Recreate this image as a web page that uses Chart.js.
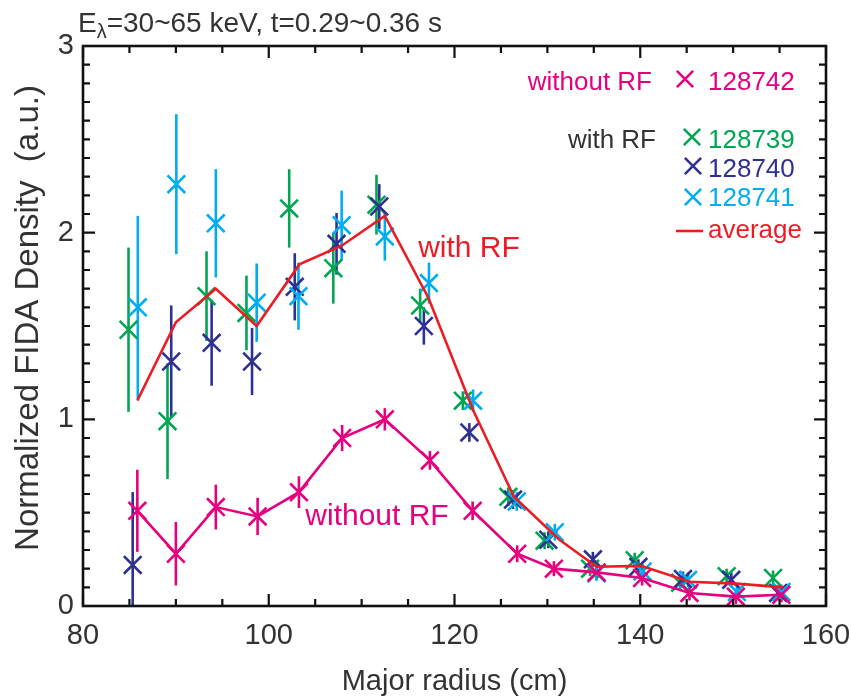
<!DOCTYPE html>
<html>
<head>
<meta charset="utf-8">
<script src="https://cdn.jsdelivr.net/npm/chart.js@4.4.0/dist/chart.umd.min.js"></script>
<style>
  body { margin: 0; background: #fff; }
  #wrap { width: 851px; height: 699px; position: relative; }
</style>
</head>
<body>
<div id="wrap"><canvas id="myChart"></canvas></div>
<script>
// values (major radius in cm, density in a.u.)
const xNoRF  = [85.85, 90.0, 94.3, 98.8, 103.25, 107.9, 112.5, 117.35, 121.95, 126.75, 130.7, 135.3, 140.2, 145.3, 150.3, 155.2];
const yNoRF  = [0.51, 0.28, 0.53, 0.48, 0.61, 0.90, 1.00, 0.78, 0.51, 0.28, 0.20, 0.18, 0.15, 0.07, 0.05, 0.06];
const eNoRF  = [0.22, 0.17, 0.12, 0.10, 0.085, 0.07, 0.06, 0.05, 0.05, 0.045, 0.04, 0.04, 0.04, 0.04, 0.04, 0.04];

const x739 = [84.9, 89.1, 93.3, 97.6, 102.2, 106.95, 111.6, 116.3, 120.9, 125.8, 129.7, 134.6, 139.4, 144.3, 149.3, 154.3];
const y739 = [1.48, 0.99, 1.66, 1.57, 2.13, 1.81, 2.15, 1.61, 1.10, 0.585, 0.35, 0.20, 0.245, 0.125, 0.16, 0.15];
const e739 = [0.44, 0.31, 0.24, 0.20, 0.21, 0.19, 0.16, 0.09, 0.05, 0.05, 0.045, 0.04, 0.04, 0.04, 0.04, 0.04];

const x740 = [85.35, 89.5, 93.85, 98.2, 102.8, 107.3, 111.9, 116.7, 121.6, 126.3, 130.1, 134.9, 139.8, 144.6, 149.8, 154.85];
const y740 = [0.22, 1.31, 1.41, 1.31, 1.71, 1.94, 2.14, 1.50, 0.93, 0.57, 0.355, 0.25, 0.21, 0.145, 0.14, 0.07];
const e740 = [0.39, 0.30, 0.23, 0.18, 0.18, 0.165, 0.12, 0.10, 0.05, 0.05, 0.045, 0.04, 0.04, 0.04, 0.04, 0.04];

const x741 = [85.9, 90.05, 94.3, 98.7, 103.2, 107.85, 112.5, 117.25, 122.0, 126.7, 130.8, 135.3, 140.25, 145.15, 150.4, 155.2];
const y741 = [1.60, 2.26, 2.05, 1.625, 1.66, 2.04, 1.98, 1.73, 1.10, 0.56, 0.395, 0.175, 0.185, 0.14, 0.075, 0.075];
const e741 = [0.49, 0.375, 0.29, 0.21, 0.18, 0.185, 0.13, 0.11, 0.06, 0.05, 0.045, 0.04, 0.04, 0.04, 0.04, 0.04];

const xAvg = [85.85, 90.0, 94.3, 98.7, 103.3, 107.85, 112.5, 117.2, 122.0, 126.4, 131.3, 135.3, 140.1, 145.3, 150.4, 155.4];
const yAvg = [1.10, 1.52, 1.70, 1.50, 1.83, 1.93, 2.09, 1.65, 1.05, 0.585, 0.355, 0.21, 0.215, 0.13, 0.12, 0.10];

const xTicks = [80, 100, 120, 140, 160];
const yTicks = [0, 1, 2, 3];

const MAGENTA = '#e6007e', GREEN = '#00a651', NAVY = '#2e3192', CYAN = '#00aeef', RED = '#ed1c24', INK = '#333333';
const FONT = '"Liberation Sans", Arial, sans-serif';

function pts(xs, ys) { return xs.map((x, i) => ({ x: x, y: ys[i] })); }

// vertical error bars, through the chart scales
const errorBars = {
  id: 'errorBars',
  beforeDatasetsDraw(chart) {
    const ctx = chart.ctx, a = chart.chartArea;
    const sx = chart.scales.x, sy = chart.scales.y;
    ctx.save();
    ctx.beginPath();
    ctx.rect(a.left, a.top, a.right - a.left, a.bottom - a.top);
    ctx.clip();
    chart.data.datasets.forEach(ds => {
      if (!ds.errors) return;
      ctx.strokeStyle = ds.borderColor;
      ctx.lineWidth = 2.6;
      ds.data.forEach((p, i) => {
        const px = sx.getPixelForValue(p.x);
        ctx.beginPath();
        ctx.moveTo(px, sy.getPixelForValue(p.y - ds.errors[i]));
        ctx.lineTo(px, sy.getPixelForValue(p.y + ds.errors[i]));
        ctx.stroke();
      });
    });
    ctx.restore();
  }
};

// box with inward ticks on all four sides
const frame = {
  id: 'frame',
  afterDatasetsDraw(chart) {
    const ctx = chart.ctx, a = chart.chartArea;
    const sx = chart.scales.x, sy = chart.scales.y;
    ctx.save();
    ctx.strokeStyle = '#111';
    ctx.lineWidth = 2.6;
    ctx.strokeRect(a.left, a.top, a.right - a.left, a.bottom - a.top);
    ctx.lineWidth = 2.2;
    for (let v = 80; v <= 160; v += 5) {
      const len = v % 20 === 0 ? 12 : 7;
      const px = sx.getPixelForValue(v);
      ctx.beginPath();
      ctx.moveTo(px, a.bottom); ctx.lineTo(px, a.bottom - len);
      ctx.moveTo(px, a.top); ctx.lineTo(px, a.top + len);
      ctx.stroke();
    }
    for (let i = 0; i <= 30; i++) {
      const len = i % 10 === 0 ? 12 : 7;
      const py = sy.getPixelForValue(i / 10);
      ctx.beginPath();
      ctx.moveTo(a.left, py); ctx.lineTo(a.left + len, py);
      ctx.moveTo(a.right, py); ctx.lineTo(a.right - len, py);
      ctx.stroke();
    }
    ctx.restore();
  }
};

// title, y label, in-plot labels and legend
const texts = {
  id: 'texts',
  afterDraw(chart) {
    const ctx = chart.ctx;
    ctx.save();
    ctx.textBaseline = 'alphabetic';
    // title with lambda subscript
    ctx.fillStyle = INK;
    ctx.textAlign = 'left';
    let x = 78;
    ctx.font = '28px ' + FONT;
    ctx.fillText('E', x, 32); x += ctx.measureText('E').width;
    ctx.font = '20px ' + FONT;
    ctx.fillText('λ', x, 38); x += ctx.measureText('λ').width;
    ctx.font = '28px ' + FONT;
    ctx.fillText('=30~65 keV, t=0.29~0.36 s', x, 32);

    // y axis title
    ctx.save();
    ctx.translate(29, 318);
    ctx.rotate(-Math.PI / 2);
    ctx.textAlign = 'center';
    ctx.textBaseline = 'middle';
    ctx.font = '33px ' + FONT;
    ctx.fillText('Normalized FIDA Density  (a.u.)', 0, 0);
    ctx.restore();

    // labels next to the curves
    ctx.textAlign = 'center';
    ctx.font = '30px ' + FONT;
    ctx.fillStyle = RED;
    ctx.fillText('with RF', 469, 257);
    ctx.fillStyle = MAGENTA;
    ctx.fillText('without RF', 377, 525);

    // legend
    ctx.font = '26px ' + FONT;
    ctx.textAlign = 'right';
    ctx.fillStyle = MAGENTA;
    ctx.fillText('without RF', 652, 90);
    ctx.fillStyle = INK;
    ctx.fillText('with RF', 656, 148);
    const rows = [
      [MAGENTA, '128742', 685, 79, 90],
      [GREEN, '128739', 692, 137, 148],
      [NAVY, '128740', 693, 166, 177],
      [CYAN, '128741', 693, 197, 206]
    ];
    ctx.textAlign = 'left';
    ctx.lineWidth = 2.6;
    rows.forEach(r => {
      ctx.strokeStyle = r[0];
      Chart.helpers.drawPoint(ctx, { pointStyle: 'crossRot', radius: 11.5, borderWidth: 2.6 }, r[2], r[3]);
      ctx.fillStyle = r[0];
      ctx.fillText(r[1], 708, r[4]);
    });
    ctx.strokeStyle = RED;
    ctx.beginPath(); ctx.moveTo(676, 231); ctx.lineTo(703, 231); ctx.stroke();
    ctx.fillStyle = RED;
    ctx.fillText('average', 708, 238);
    ctx.restore();
  }
};

function scatterSet(label, xs, ys, es, color, order) {
  return {
    label: label,
    data: pts(xs, ys),
    errors: es,
    showLine: false,
    borderColor: color,
    backgroundColor: color,
    pointStyle: 'crossRot',
    pointRadius: 12.5,
    pointBorderWidth: 2.6,
    clip: false,
    order: order
  };
}

const data = {
  datasets: [
    {
      label: 'average',
      data: pts(xAvg, yAvg),
      borderColor: RED,
      borderWidth: 2.6,
      pointRadius: 0,
      showLine: true,
      fill: false,
      order: 0
    },
    Object.assign(scatterSet('128742', xNoRF, yNoRF, eNoRF, MAGENTA, 1), { showLine: true, borderWidth: 2.6 }),
    scatterSet('128741', x741, y741, e741, CYAN, 2),
    scatterSet('128740', x740, y740, e740, NAVY, 3),
    scatterSet('128739', x739, y739, e739, GREEN, 4)
  ]
};

const config = {
  type: 'scatter',
  data,
  options: {
    responsive: true,
    maintainAspectRatio: false,
    animation: false,
    layout: { padding: { top: 46, right: 25, left: 0, bottom: 0 } },
    plugins: { legend: { display: false }, tooltip: { enabled: false } },
    scales: {
      x: {
        type: 'linear', min: 80, max: 160,
        afterFit: s => { s.height = 93; s.paddingLeft = 0; s.paddingRight = 0; },
        afterBuildTicks: s => { s.ticks = xTicks.map(v => ({ value: v })); },
        grid: { display: false, drawTicks: false },
        border: { display: false },
        ticks: { color: INK, padding: 13, maxRotation: 0, font: { family: FONT, size: 29 } },
        title: { display: true, text: 'Major radius (cm)', color: INK, padding: { top: 0, bottom: 0 },
                 font: { family: FONT, size: 29 } }
      },
      y: {
        type: 'linear', min: 0, max: 3,
        afterFit: s => { s.width = 83; s.paddingTop = 0; s.paddingBottom = 0; },
        afterBuildTicks: s => { s.ticks = yTicks.map(v => ({ value: v })); },
        grid: { display: false, drawTicks: false },
        border: { display: false },
        ticks: { color: INK, padding: 9, font: { family: FONT, size: 29 } }
      }
    }
  },
  plugins: [errorBars, frame, texts]
};

const myChart = new Chart(document.getElementById('myChart'), config);
</script>
</body>
</html>
